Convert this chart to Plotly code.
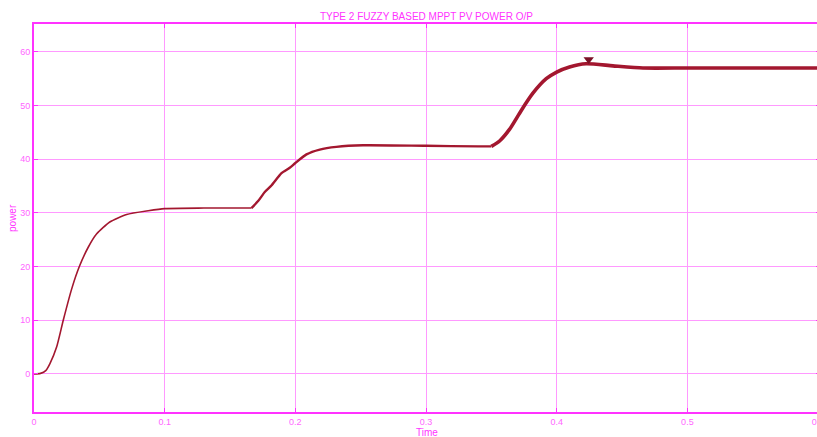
import plotly.graph_objects as go

# ---- data ----
time = [0, 0.005, 0.009, 0.0122, 0.0173, 0.0224, 0.0288, 0.0347, 0.0415, 0.048,
        0.058, 0.0709, 0.0874, 0.1, 0.13, 0.1664, 0.1715, 0.1766, 0.1817, 0.1894,
        0.1957, 0.2, 0.2085, 0.2187, 0.2314, 0.2518, 0.3, 0.34, 0.35, 0.3563,
        0.364, 0.3729, 0.3818, 0.392, 0.4, 0.4098, 0.4225, 0.443, 0.466, 0.5, 0.6]
power = [0, 0.1, 0.6, 1.9, 5.0, 10.0, 15.8, 20.0, 23.6, 26.1,
         28.3, 29.7, 30.4, 30.8, 30.9, 30.9, 32.2, 33.9, 35.1, 37.4,
         38.4, 39.3, 40.9, 41.8, 42.3, 42.6, 42.5, 42.4, 42.4, 43.4,
         45.6, 49.1, 52.3, 55.0, 56.25, 57.2, 57.8, 57.4, 57.0, 57.0, 57.0]
marker_time = [0.4245]
marker_power = [58.6]
x_ticks = [0, 0.1, 0.2, 0.3, 0.4, 0.5, 0.6]
x_tick_labels = ["0", "0.1", "0.2", "0.3", "0.4", "0.5", "0.6"]
y_ticks = [0, 10, 20, 30, 40, 50, 60]

LINE = "#a3172f"
FONT = "Liberation Sans, Arial"
# segment split indices (line gets thicker later in the run)
i1 = time.index(0.1664)
i2 = time.index(0.35)
segments = [(0, i1 + 1, 1.6), (i1, i2 + 1, 2.4), (i2, len(time), 3.6)]

fig = go.Figure()
for a, b, w in segments:
    fig.add_trace(go.Scatter(x=time[a:b], y=power[a:b], mode="lines",
                             line=dict(color=LINE, width=w, shape="spline", smoothing=0.6),
                             showlegend=False, hoverinfo="skip"))
fig.add_trace(go.Scatter(x=marker_time, y=marker_power, mode="markers",
                         marker=dict(symbol="triangle-down", size=9, color="#7a1226"),
                         showlegend=False))

axis_common = dict(
    showgrid=True, gridcolor="#ff99ff", gridwidth=1,
    showline=True, linecolor="#ff33ff", linewidth=2, mirror="allticks",
    ticks="inside", ticklen=4, tickcolor="#ff33ff",
    tickfont=dict(family=FONT, size=9, color="#ff66ff"),
    zeroline=False, automargin=False, ticklabeloverflow="allow",
)

fig.update_layout(
    width=820, height=437,
    margin=dict(l=34, r=0, t=24, b=25, autoexpand=False),
    paper_bgcolor="white", plot_bgcolor="white",
    title=dict(text="TYPE 2 FUZZY BASED MPPT PV POWER O/P", x=0.52, xanchor="center",
               y=0.962, yanchor="middle", automargin=False,
               font=dict(family=FONT, size=10, color="#ff33ff")),
    xaxis=dict(range=[0, 0.6015], tickvals=x_ticks, ticktext=x_tick_labels, **axis_common),
    yaxis=dict(range=[-7.1, 65.2], tickvals=y_ticks, **axis_common),
    annotations=[
        dict(text="Time", xref="paper", yref="paper", x=0.5, y=-0.054,
             xanchor="center", yanchor="middle", showarrow=False,
             font=dict(family=FONT, size=10, color="#ff33ff")),
        dict(text="power", xref="paper", yref="paper", x=-0.028, y=0.5,
             xanchor="center", yanchor="middle", textangle=-90, showarrow=False,
             font=dict(family=FONT, size=10, color="#ff33ff")),
    ],
)

fig.write_html("out.html",
               config={"displayModeBar": False},
               post_script="document.body.style.margin='0';document.body.style.overflow='hidden';")
